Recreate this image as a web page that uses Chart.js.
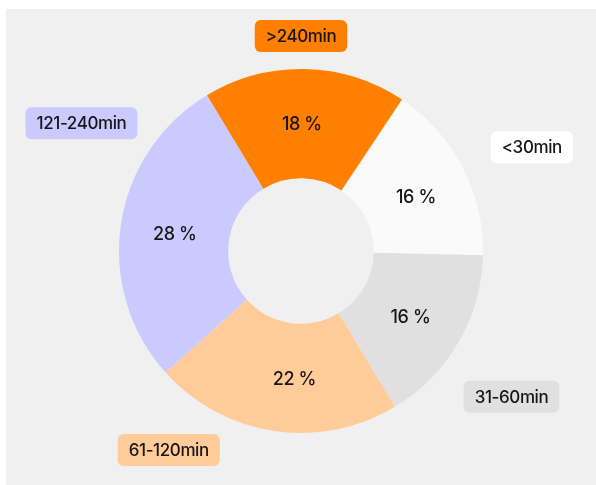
<!DOCTYPE html>
<html>
<head>
<meta charset="utf-8">
<script src="https://cdn.jsdelivr.net/npm/chart.js@4/dist/chart.umd.min.js"></script>
<style>
	html, body { margin: 0; padding: 0; background: #ffffff; }
	#panel {
		position: absolute;
		left: 6px; top: 9px;
		width: 590px; height: 476px;
		background: #f0f0f0;
	}
	#panel canvas { display: block; }
</style>
</head>
<body>
<div id="panel"><canvas id="durationChart"></canvas></div>
<script>
// durations, share of sessions in percent
const categories = ['<30min', '31-60min', '61-120min', '121-240min', '>240min'];
const shares = [16, 16, 22, 28, 18];
const sliceColors = ['#fafafa', '#e0e0e0', '#ffcc99', '#cbcaff', '#ff7f00'];

// draws the percent inside each arc and a tag box outside it
const tagPlugin = {
	id: 'durationTags',
	afterDatasetsDraw(chart, args, opts) {
		const ctx = chart.ctx;
		const meta = chart.getDatasetMeta(0);
		const values = chart.data.datasets[0].data;
		const colors = chart.data.datasets[0].backgroundColor;
		const deg = Math.PI / 180;

		meta.data.forEach((arc, i) => {
			const p = arc.getProps(['x', 'y', 'startAngle', 'endAngle', 'innerRadius', 'outerRadius'], true);
			const mid = (p.startAngle + p.endAngle) / 2;

			// percent text in the middle of the ring
			const rMid = (p.innerRadius + p.outerRadius) / 2;
			const va = mid + opts.valueTurn[i] * deg;
			ctx.save();
			ctx.font = opts.valueFont;
			ctx.letterSpacing = opts.spacing;
			ctx.fillStyle = opts.textColor;
			ctx.textAlign = 'center';
			ctx.textBaseline = 'middle';
			ctx.fillText(values[i] + ' %', p.x + Math.cos(va) * rMid, p.y + Math.sin(va) * rMid + 1);

			// tag box outside the ring
			const ang = mid + opts.tagTurn[i] * deg;
			const dist = p.outerRadius + opts.tagGap[i];
			const cx = p.x + Math.cos(ang) * dist;
			const cy = p.y + Math.sin(ang) * dist;
			ctx.font = opts.tagFont;
			const w = ctx.measureText(chart.data.labels[i]).width + opts.tagPadX * 2;
			const h = opts.tagHeight;
			ctx.fillStyle = colors[i] === '#fafafa' ? '#ffffff' : colors[i];
			ctx.beginPath();
			ctx.roundRect(cx - w / 2, cy - h / 2, w, h, 6);
			ctx.fill();
			ctx.fillStyle = opts.textColor;
			ctx.fillText(chart.data.labels[i], cx, cy + 1);
			ctx.restore();
		});
	}
};

new Chart(document.getElementById('durationChart'), {
	type: 'doughnut',
	data: {
		labels: categories,
		datasets: [{
			data: shares,
			backgroundColor: sliceColors,
			borderWidth: 0,
			hoverOffset: 0
		}]
	},
	options: {
		responsive: true,
		maintainAspectRatio: false,
		animation: false,
		rotation: 33.7,
		cutout: '40%',
		layout: { padding: { top: 60, bottom: 52, left: 0, right: 0 } },
		plugins: {
			legend: { display: false },
			tooltip: { enabled: false },
			durationTags: {
				textColor: '#161616',
				spacing: '-0.4px',
				valueFont: '500 18px Inter, "Noto Sans", sans-serif',
				valueTurn: [2, 0.7, -5.5, -0.5, -0.9],
				tagFont: '500 17px Inter, "Noto Sans", sans-serif',
				tagPadX: 11,
				tagHeight: 32,
				tagTurn: [3.3, 4.6, 25.1, 21.7, -1.3],
				tagGap: [71, 74, 57, 72, 33]
			}
		}
	},
	plugins: [tagPlugin]
});
</script>
</body>
</html>
